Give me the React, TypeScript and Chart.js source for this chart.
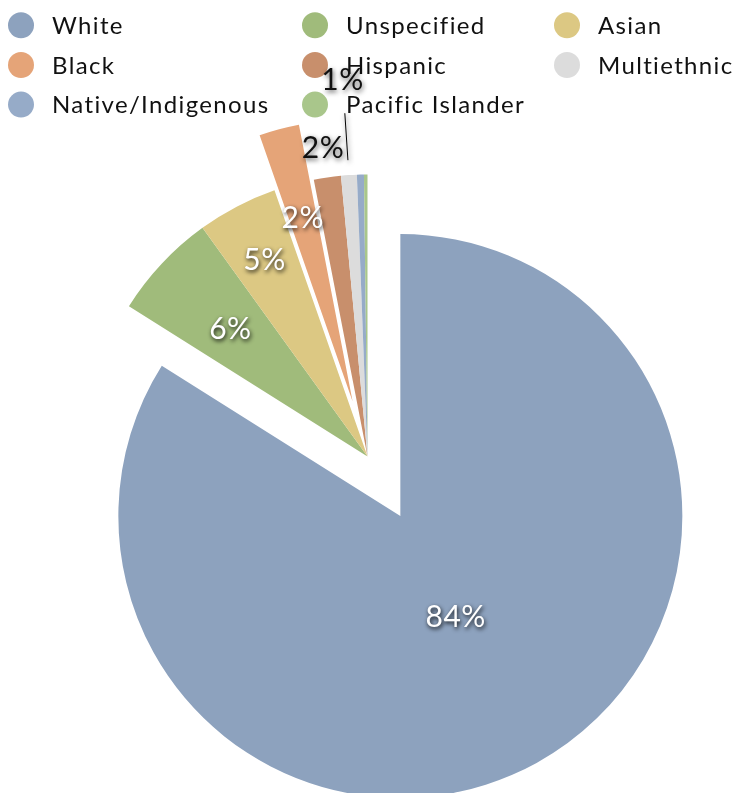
import React, { useEffect, useRef } from 'react';
import { Chart, registerables } from 'chart.js';

Chart.register(...registerables);

// ---- data ----
const categories = [
  'White',
  'Unspecified',
  'Asian',
  'Black',
  'Hispanic',
  'Multiethnic',
  'Native/Indigenous',
  'Pacific Islander',
];
const shares = [83.95, 6.1, 4.6, 2.3, 1.55, 0.9, 0.4, 0.2];

// ---- styles ----
const colors = [
  '#8DA2BE',
  '#A0BB7B',
  '#DCC883',
  '#E5A478',
  '#C88F6C',
  '#DCDCDC',
  '#96ABC8',
  '#A9C68B',
];
const explode = [68, 0, 0, 57, 0, 0, 0, 0];
const labelRadius: (number | null)[] = [0.406, 0.667, 0.79, 0.678, 1.108, 1.34, null, null];
const labelInside = [true, true, true, true, false, false, false, false];
const leaderLine: ([number, number] | null)[] = [null, null, null, null, null, [1.053, 1.22], null, null];
const legendColX = [21, 315, 567];
const legendRowY = [25.3, 65, 104.6];
const LEGEND_FONT = 'Lato, "Noto Sans", sans-serif';
const LABEL_FONT = 'Lato, "Noto Sans", sans-serif';

const legendPlugin = {
  id: 'gridLegend',
  beforeDatasetsDraw(chart: any) {
    const ctx = chart.ctx as CanvasRenderingContext2D;
    ctx.save();
    ctx.font = `24px ${LEGEND_FONT}`;
    (ctx as any).letterSpacing = '1.35px';
    ctx.textAlign = 'left';
    ctx.textBaseline = 'alphabetic';
    categories.forEach((name, i) => {
      const cx = legendColX[i % 3];
      const cy = legendRowY[Math.floor(i / 3)];
      ctx.beginPath();
      ctx.arc(cx, cy, 13, 0, Math.PI * 2);
      ctx.fillStyle = colors[i];
      ctx.fill();
      ctx.fillStyle = '#111111';
      ctx.fillText(name, cx + 31, cy + 8.7);
    });
    (ctx as any).letterSpacing = '0px';
    ctx.restore();
  },
};

const explodePlugin = {
  id: 'explodeArcs',
  beforeDatasetDraw(chart: any, args: any) {
    const ctx = chart.ctx as CanvasRenderingContext2D;
    const meta = args.meta;
    meta.data.forEach((arc: any, i: number) => {
      const mid = (arc.startAngle + arc.endAngle) / 2;
      const d = explode[i] || 0;
      ctx.save();
      ctx.translate(Math.cos(mid) * d, Math.sin(mid) * d);
      arc.draw(ctx, chart.chartArea);
      ctx.restore();
    });
    return false;
  },
};

const labelPlugin = {
  id: 'pctLabels',
  afterDatasetsDraw(chart: any) {
    const ctx = chart.ctx as CanvasRenderingContext2D;
    const meta = chart.getDatasetMeta(0);
    const data = chart.data.datasets[0].data as number[];
    const total = data.reduce((a, b) => a + b, 0);
    ctx.save();
    ctx.font = `30px ${LABEL_FONT}`;
    (ctx as any).letterSpacing = '0.5px';
    ctx.textAlign = 'center';
    ctx.textBaseline = 'alphabetic';
    meta.data.forEach((arc: any, i: number) => {
      const rf = labelRadius[i];
      if (rf == null) return;
      const mid = (arc.startAngle + arc.endAngle) / 2;
      const d = explode[i] || 0;
      const ox = arc.x + Math.cos(mid) * d;
      const oy = arc.y + Math.sin(mid) * d;
      const r = arc.outerRadius;
      const lx = ox + Math.cos(mid) * r * rf;
      const ly = oy + Math.sin(mid) * r * rf;
      const txt = Math.round((data[i] / total) * 100) + '%';
      const ll = leaderLine[i];
      if (ll) {
        ctx.save();
        ctx.strokeStyle = '#000';
        ctx.lineWidth = 1;
        ctx.beginPath();
        ctx.moveTo(ox + Math.cos(mid) * r * ll[0], oy + Math.sin(mid) * r * ll[0]);
        ctx.lineTo(ox + Math.cos(mid) * r * ll[1], oy + Math.sin(mid) * r * ll[1]);
        ctx.stroke();
        ctx.restore();
      }
      if (labelInside[i]) {
        ctx.shadowColor = 'rgba(0,0,0,0.9)';
        ctx.shadowBlur = 4;
        ctx.shadowOffsetX = 1;
        ctx.shadowOffsetY = 2;
        ctx.fillStyle = '#ffffff';
      } else {
        ctx.shadowColor = 'rgba(0,0,0,0.65)';
        ctx.shadowBlur = 5;
        ctx.shadowOffsetX = 1;
        ctx.shadowOffsetY = 2;
        ctx.fillStyle = '#111111';
      }
      ctx.fillText(txt, lx, ly + 11);
    });
    (ctx as any).letterSpacing = '0px';
    ctx.restore();
  },
};

export default function App() {
  const canvasRef = useRef<HTMLCanvasElement | null>(null);

  useEffect(() => {
    let chart: Chart | null = null;
    let cancelled = false;
    const make = () => {
      if (cancelled || !canvasRef.current) return;
      chart = new Chart(canvasRef.current, {
        type: 'pie',
        data: {
          labels: categories,
          datasets: [
            {
              data: shares,
              backgroundColor: colors,
              borderWidth: 0,
              radius: 282,
              clip: false,
            } as any,
          ],
        },
        options: {
          responsive: false,
          animation: false,
          events: [],
          layout: { padding: { top: 120, left: 3, right: 0, bottom: 0 } },
          plugins: {
            legend: { display: false },
            tooltip: { enabled: false },
          },
        },
        plugins: [legendPlugin, explodePlugin, labelPlugin],
      });
    };
    const fontsApi = (document as any).fonts;
    if (fontsApi && fontsApi.load) {
      Promise.all([fontsApi.load(`24px ${LEGEND_FONT}`), fontsApi.load(`30px ${LABEL_FONT}`)])
        .catch(() => null)
        .then(make);
    } else {
      make();
    }
    return () => {
      cancelled = true;
      if (chart) chart.destroy();
    };
  }, []);

  return (
    <div style={{ position: 'fixed', left: 0, top: 0, width: 732, height: 793, background: '#fff' }}>
      <canvas ref={canvasRef} width={732} height={793} style={{ display: 'block' }} />
    </div>
  );
}
